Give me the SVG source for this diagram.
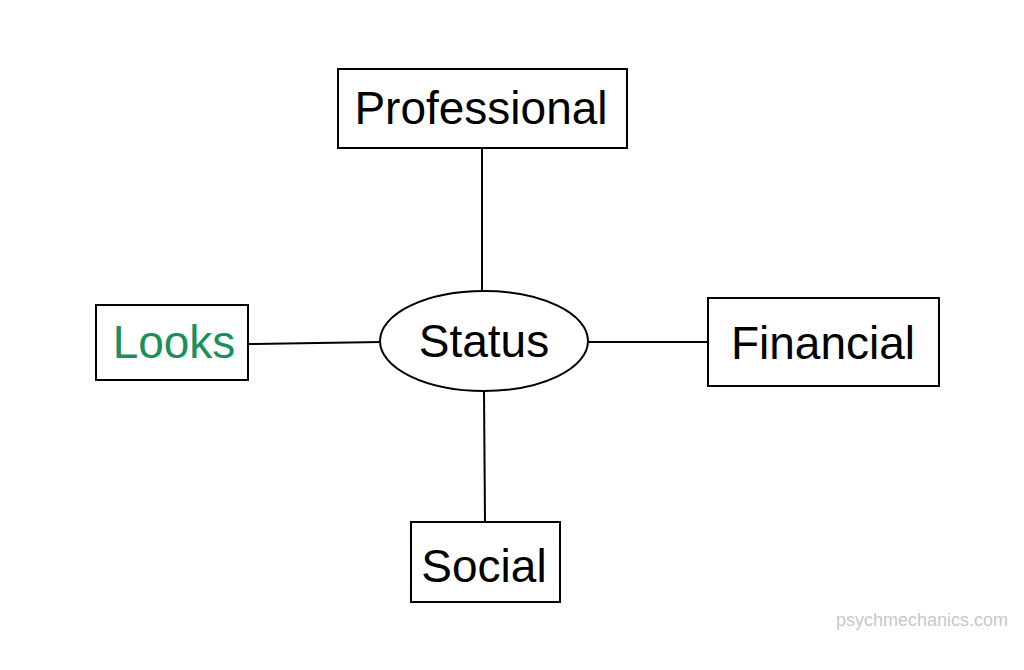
<svg xmlns="http://www.w3.org/2000/svg" width="1024" height="670" viewBox="0 0 1024 670">
<style>
.n{fill:#fff;stroke:#000;stroke-width:2}
.t{font-family:"Liberation Sans",Arial,sans-serif;font-size:46px;fill:#000;text-anchor:middle}
.c line{stroke:#000;stroke-width:2}
</style>
<rect width="1024" height="670" fill="#fff"/>
<g class="c" id="connectors">
<line x1="482" y1="148" x2="482" y2="291"/>
<line x1="484" y1="391" x2="485" y2="522"/>
<line x1="248" y1="344" x2="381" y2="342"/>
<line x1="588" y1="342" x2="708" y2="342"/>
</g>
<g id="professional"><rect class="n" x="338" y="69" width="289" height="79"/><text class="t" x="481" y="124">Professional</text></g>
<g id="looks"><rect class="n" x="96" y="305" width="152" height="75"/><text class="t" x="174" y="358" style="fill:#1a8f5a">Looks</text></g>
<g id="status"><ellipse class="n" cx="484" cy="341" rx="104" ry="50"/><text class="t" x="484" y="357">Status</text></g>
<g id="financial"><rect class="n" x="708" y="298" width="231" height="88"/><text class="t" x="823" y="359">Financial</text></g>
<g id="social"><rect class="n" x="411" y="522" width="149" height="80"/><text class="t" x="484" y="582">Social</text></g>
<text x="1008" y="626" style="font-family:'Liberation Sans',Arial,sans-serif;font-size:18px;fill:#c8c8c8;text-anchor:end">psychmechanics.com</text>
</svg>
